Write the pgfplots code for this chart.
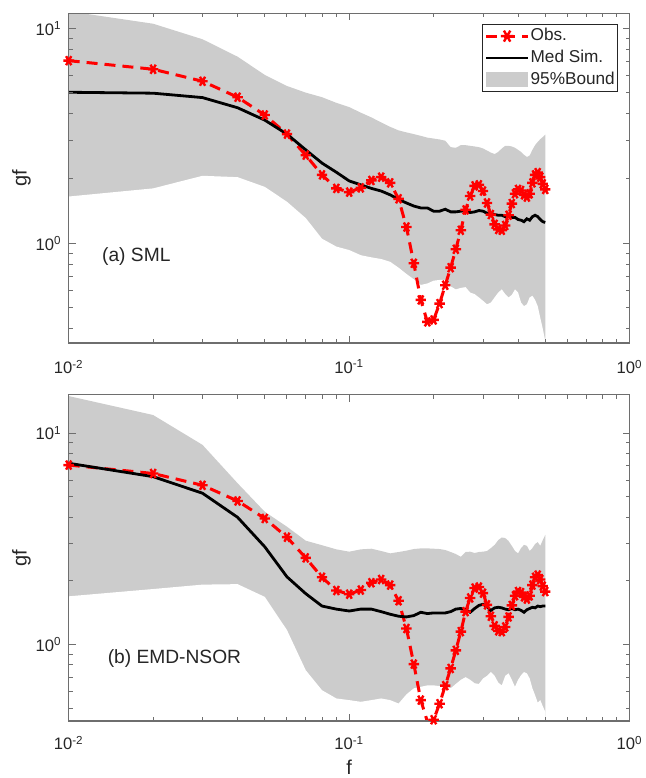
\documentclass[border=0pt]{standalone}
\usepackage{fontspec}
\setmainfont{Liberation Sans}
\usepackage{pgfplots}
\usepackage{pgfplotstable}
\pgfplotsset{compat=1.18}
\usetikzlibrary{calc}

\definecolor{bandgray}{HTML}{CCCCCC}
\definecolor{axisgray}{HTML}{6E6E6E}
\definecolor{labelink}{HTML}{262626}
\definecolor{obsred}{HTML}{FF0000}

% observed gf, shared by both panels
\pgfplotstableread{
f     obs
0.01  7.07
0.02  6.45
0.03  5.67
0.04  4.78
0.05  3.95
0.06  3.22
0.07  2.57
0.08  2.08
0.09  1.80
0.10  1.73
0.11  1.81
0.12  1.96
0.13  2.03
0.14  1.91
0.15  1.61
0.16  1.19
0.17  0.807
0.18  0.545
0.19  0.431
0.20  0.44
0.21  0.524
0.22  0.638
0.23  0.77
0.24  0.938
0.25  1.15
0.26  1.43
0.27  1.66
0.28  1.85
0.29  1.87
0.30  1.75
0.31  1.54
0.32  1.36
0.33  1.225
0.34  1.16
0.35  1.15
0.36  1.21
0.37  1.35
0.38  1.53
0.39  1.70
0.40  1.78
0.41  1.76
0.42  1.68
0.43  1.64
0.44  1.70
0.45  1.91
0.46  2.08
0.47  2.13
0.48  2.03
0.49  1.89
0.50  1.78
}\obsdata

% (a) SML: median simulation and 95% bounds
\pgfplotstableread{
f     sim   up    lo
0.01  5.04  12.0  1.65
0.02  4.99  10.5  1.80
0.03  4.76  8.89  2.06
0.04  4.27  7.38  2.03
0.05  3.74  6.07  1.83
0.06  3.22  5.39  1.56
0.07  2.72  5.02  1.31
0.08  2.36  4.78  1.05
0.09  2.14  4.50  0.965
0.10  1.95  4.30  0.93
0.11  1.87  4.05  0.88
0.12  1.80  3.85  0.86
0.13  1.75  3.65  0.845
0.14  1.68  3.48  0.82
0.15  1.60  3.35  0.77
0.16  1.54  3.28  0.72
0.17  1.49  3.22  0.68
0.18  1.46  3.16  0.64
0.19  1.46  3.10  0.65
0.20  1.41  3.07  0.67
0.21  1.41  3.04  0.675
0.22  1.44  3.00  0.675
0.23  1.40  2.80  0.63
0.24  1.40  2.78  0.61
0.25  1.41  2.86  0.62
0.26  1.42  2.86  0.625
0.27  1.39  2.84  0.59
0.28  1.40  2.82  0.58
0.29  1.42  2.80  0.56
0.30  1.41  2.76  0.54
0.31  1.38  2.70  0.52
0.32  1.38  2.64  0.53
0.33  1.36  2.60  0.56
0.34  1.35  2.66  0.59
0.35  1.35  2.76  0.61
0.36  1.33  2.84  0.58
0.37  1.34  2.84  0.56
0.38  1.32  2.82  0.575
0.39  1.32  2.78  0.61
0.40  1.29  2.72  0.59
0.41  1.28  2.66  0.53
0.42  1.26  2.58  0.51
0.43  1.30  2.52  0.52
0.44  1.28  2.56  0.56
0.45  1.33  2.72  0.57
0.46  1.35  2.86  0.545
0.47  1.33  2.96  0.51
0.48  1.29  3.05  0.45
0.49  1.26  3.12  0.40
0.50  1.25  3.20  0.35
}\smldata

% (b) EMD-NSOR
\pgfplotstableread{
f     sim   up    lo
0.01  7.21  15.0  1.69
0.02  6.23  12.2  1.83
0.03  5.20  8.81  1.92
0.04  4.00  5.80  1.93
0.05  2.90  4.25  1.68
0.06  2.09  3.61  1.17
0.07  1.74  3.10  0.755
0.08  1.52  2.95  0.607
0.09  1.47  2.82  0.555
0.10  1.44  2.75  0.545
0.11  1.47  2.82  0.535
0.12  1.47  2.84  0.545
0.13  1.43  2.77  0.555
0.14  1.39  2.70  0.545
0.15  1.36  2.74  0.525
0.16  1.35  2.78  0.58
0.17  1.37  2.83  0.62
0.18  1.42  2.85  0.63
0.19  1.40  2.85  0.64
0.20  1.41  2.84  0.64
0.21  1.41  2.83  0.635
0.22  1.41  2.80  0.63
0.23  1.43  2.74  0.62
0.24  1.47  2.68  0.65
0.25  1.48  2.60  0.68
0.26  1.46  2.74  0.70
0.27  1.42  2.75  0.68
0.28  1.48  2.71  0.655
0.29  1.53  2.74  0.65
0.30  1.55  2.75  0.69
0.31  1.51  2.77  0.71
0.32  1.45  2.86  0.74
0.33  1.49  2.96  0.71
0.34  1.50  3.12  0.66
0.35  1.49  3.21  0.64
0.36  1.47  3.19  0.71
0.37  1.46  3.09  0.73
0.38  1.48  2.93  0.68
0.39  1.46  2.77  0.63
0.40  1.47  2.70  0.68
0.41  1.45  2.86  0.715
0.42  1.42  2.96  0.74
0.43  1.46  2.93  0.73
0.44  1.48  2.77  0.69
0.45  1.50  2.86  0.62
0.46  1.49  2.99  0.575
0.47  1.52  3.05  0.53
0.48  1.51  2.93  0.545
0.49  1.52  3.12  0.51
0.50  1.52  3.30  0.48
}\emddata

\begin{document}
\begin{tikzpicture}
\begin{axis}[name=top,
  scale only axis, width=280.5pt, height=164.8pt,
  xmode=log, ymode=log, log origin y=infty,
  xmin=0.01, xmax=1, ymin=0.344, ymax=11.74,
  axis on top,
  axis line style={axisgray, line width=0.6pt},
  tick style={axisgray, line width=0.5pt},
  major tick length=3.5pt, minor tick length=2pt,
  tick align=inside,
  xtick={0.01,0.1,1},
  xticklabels={10\textsuperscript{-2},10\textsuperscript{-1},10\textsuperscript{0}},
  minor xtick={0.02,0.03,0.04,0.05,0.06,0.07,0.08,0.09,0.2,0.3,0.4,0.5,0.6,0.7,0.8,0.9},
  ytick={1,10},
  yticklabels={10\textsuperscript{0},10\textsuperscript{1}},
  minor ytick={0.4,0.5,0.6,0.7,0.8,0.9,2,3,4,5,6,7,8,9},
  tick label style={font=\fontsize{8.3}{9.5}\selectfont, text=labelink},
  xticklabel style={yshift=-5pt},
  ylabel={gf},
  ylabel style={at={(axis description cs:-0.084,0.5)}, anchor=center,
    font=\fontsize{10}{12}\selectfont, text=labelink},
  legend cell align=left,
  legend image post style={scale=1.22},
  legend style={at={(rel axis cs:1,1)}, anchor=north east,
    xshift=-5.6pt, yshift=-5.2pt, draw=labelink, line width=0.5pt,
    inner xsep=1pt, inner ysep=0.6pt, row sep=0.2pt, column sep=0pt,
    nodes={inner xsep=0.6pt, inner ysep=1.5pt},
    font=\fontsize{8.6}{9.5}\selectfont, text=labelink},
]
% band = gray under the upper bound, then white under the lower bound
\addplot[fill=bandgray, draw=none, forget plot] table[x=f, y=up] {\smldata} \closedcycle;
\addplot[fill=white, draw=none, forget plot] table[x=f, y=lo] {\smldata} \closedcycle;
\addplot[obsred, line width=1.5pt, dash pattern=on 5.5pt off 3.5pt, mark=asterisk, mark size=2.6pt,
  mark options={solid, rotate=90, line width=1.2pt}]
  table[x=f, y=obs] {\obsdata};
\addlegendentry{Obs.}
\addplot[black, line width=1.4pt] table[x=f, y=sim] {\smldata};
\addlegendentry{Med Sim.}
\addlegendimage{area legend, fill=bandgray, draw=bandgray}
\addlegendentry{95\%Bound}
\node[anchor=west, inner sep=0pt, font=\fontsize{9.6}{11}\selectfont, text=labelink] at (axis cs:0.01312,0.866) {(a) SML};
\end{axis}

\begin{axis}[name=bot,
  at={($(top.south west)+(0,-25.85pt)$)}, anchor=north west,
  scale only axis, width=280.5pt, height=163.2pt,
  xmode=log, ymode=log, log origin y=infty,
  xmin=0.01, xmax=1, ymin=0.434, ymax=15.24,
  axis on top,
  axis line style={axisgray, line width=0.6pt},
  tick style={axisgray, line width=0.5pt},
  major tick length=3.5pt, minor tick length=2pt,
  tick align=inside,
  xtick={0.01,0.1,1},
  xticklabels={10\textsuperscript{-2},10\textsuperscript{-1},10\textsuperscript{0}},
  minor xtick={0.02,0.03,0.04,0.05,0.06,0.07,0.08,0.09,0.2,0.3,0.4,0.5,0.6,0.7,0.8,0.9},
  ytick={1,10},
  yticklabels={10\textsuperscript{0},10\textsuperscript{1}},
  minor ytick={0.5,0.6,0.7,0.8,0.9,2,3,4,5,6,7,8,9},
  tick label style={font=\fontsize{8.3}{9.5}\selectfont, text=labelink},
  xticklabel style={yshift=-4pt},
  ylabel={gf},
  ylabel style={at={(axis description cs:-0.084,0.5)}, anchor=center,
    font=\fontsize{10}{12}\selectfont, text=labelink},
  xlabel={f},
  xlabel style={at={(axis description cs:0.5,0)}, anchor=center, yshift=-23pt,
    font=\fontsize{10}{12}\selectfont, text=labelink},
]
\addplot[fill=bandgray, draw=none, forget plot] table[x=f, y=up] {\emddata} \closedcycle;
\addplot[fill=white, draw=none, forget plot] table[x=f, y=lo] {\emddata} \closedcycle;
\addplot[obsred, line width=1.5pt, dash pattern=on 5.5pt off 3.5pt, mark=asterisk, mark size=2.6pt,
  mark options={solid, rotate=90, line width=1.2pt}]
  table[x=f, y=obs] {\obsdata};
\addplot[black, line width=1.4pt] table[x=f, y=sim] {\emddata};
\node[anchor=west, inner sep=0pt, font=\fontsize{9.6}{11}\selectfont, text=labelink] at (axis cs:0.01374,0.859) {(b) EMD-NSOR};
\end{axis}

\pgfresetboundingbox
\path ($(top.north west)+(-34.35pt,6.65pt)$) rectangle ($(top.north west)+(288.65pt,-382.35pt)$);
\end{tikzpicture}
\end{document}
